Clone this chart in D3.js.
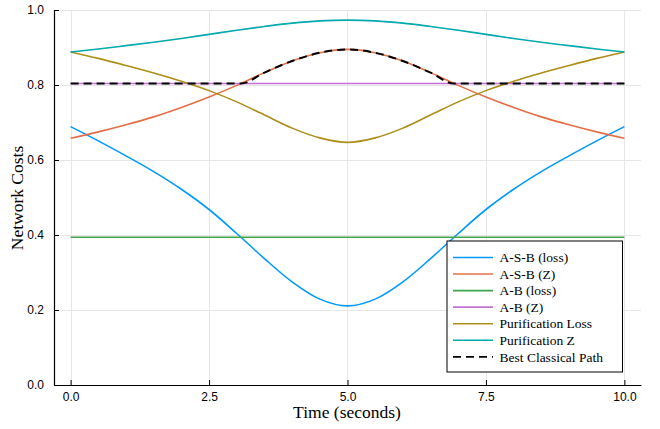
<!DOCTYPE html>
<html>
<head>
<meta charset="utf-8">
<script src="https://cdn.jsdelivr.net/npm/d3@7"></script>
<style>
  html, body { margin: 0; padding: 0; background: #fff; }
  svg { display: block; }
</style>
</head>
<body>
<svg id="chart" width="660" height="429"></svg>
<script>
// ---- data ----
const time = [0, 0.5, 1, 1.5, 2, 2.5, 3, 3.5, 4, 4.5, 5, 5.5, 6, 6.5, 7, 7.5, 8, 8.5, 9, 9.5, 10];
const asbLoss = [0.689, 0.651, 0.611, 0.569, 0.522, 0.468, 0.404, 0.337, 0.275, 0.229, 0.211,
                 0.229, 0.275, 0.337, 0.404, 0.468, 0.522, 0.569, 0.611, 0.651, 0.689];
const asbZ = [0.658, 0.675, 0.694, 0.715, 0.740, 0.768, 0.799, 0.833, 0.864, 0.886, 0.895,
              0.886, 0.864, 0.833, 0.799, 0.768, 0.740, 0.715, 0.694, 0.675, 0.658];
const abLoss = [0.394, 0.394, 0.394, 0.394, 0.394, 0.394, 0.394, 0.394, 0.394, 0.394, 0.394,
                0.394, 0.394, 0.394, 0.394, 0.394, 0.394, 0.394, 0.394, 0.394, 0.394];
const abZ = [0.804, 0.804, 0.804, 0.804, 0.804, 0.804, 0.804, 0.804, 0.804, 0.804, 0.804,
             0.804, 0.804, 0.804, 0.804, 0.804, 0.804, 0.804, 0.804, 0.804, 0.804];
const purLoss = [0.888, 0.871, 0.852, 0.832, 0.810, 0.785, 0.755, 0.720, 0.685, 0.659, 0.647,
                 0.659, 0.685, 0.720, 0.755, 0.785, 0.810, 0.832, 0.852, 0.871, 0.888];
const purZ = [0.888, 0.896, 0.905, 0.914, 0.924, 0.935, 0.946, 0.956, 0.965, 0.971, 0.973,
              0.971, 0.965, 0.956, 0.946, 0.935, 0.924, 0.914, 0.905, 0.896, 0.888];
const bestTime = [0, 1, 2, 3, 3.08, 3.5, 4, 4.5, 5, 5.5, 6, 6.5, 6.92, 7, 8, 9, 10];
const bestPath = [0.804, 0.804, 0.804, 0.804, 0.804, 0.833, 0.864, 0.886, 0.895,
                  0.886, 0.864, 0.833, 0.804, 0.804, 0.804, 0.804, 0.804];

const seriesNames = ["A-S-B (loss)", "A-S-B (Z)", "A-B (loss)", "A-B (Z)", "Purification Loss", "Purification Z", "Best Classical Path"];
const seriesColors = ["#009AFA", "#E36F47", "#3EA44E", "#C371D2", "#AC8E18", "#00A9AD", "#000000"];
const xTicks = [0, 2.5, 5, 7.5, 10];
const yTicks = [0, 0.2, 0.4, 0.6, 0.8, 1.0];
const xTitle = "Time (seconds)";
const yTitle = "Network Costs";

// ---- chart ----
const svg = d3.select("#chart");
const x = d3.scaleLinear().domain([-0.3, 10.3]).range([54, 641]);
const y = d3.scaleLinear().domain([0, 1]).range([385, 10]);

// grid
const grid = svg.append("g").attr("stroke", "#e6e6e6").attr("stroke-width", 1);
grid.selectAll("line.gx").data(xTicks).join("line")
  .attr("x1", d => Math.round(x(d)) + 0.5).attr("x2", d => Math.round(x(d)) + 0.5)
  .attr("y1", y(0)).attr("y2", y(1));
grid.selectAll("line.gy").data(yTicks).join("line")
  .attr("y1", d => Math.round(y(d)) + 0.5).attr("y2", d => Math.round(y(d)) + 0.5)
  .attr("x1", x.range()[0]).attr("x2", x.range()[1]);

// lines
const series = [
  { t: time, v: asbLoss },
  { t: time, v: asbZ },
  { t: time, v: abLoss },
  { t: time, v: abZ },
  { t: time, v: purLoss },
  { t: time, v: purZ },
  { t: bestTime, v: bestPath, dash: true }
];
const smooth = d3.line().x(d => x(d[0])).y(d => y(d[1])).curve(d3.curveCatmullRom.alpha(0.5));
const mono = d3.line().x(d => x(d[0])).y(d => y(d[1])).curve(d3.curveMonotoneX);
const plot = svg.append("g");
series.forEach((s, i) => {
  const pts = s.t.map((t, j) => [t, s.v[j]]);
  plot.append("path")
    .attr("d", s.dash ? mono(pts) : smooth(pts))
    .attr("fill", "none")
    .attr("stroke", seriesColors[i])
    .attr("stroke-width", s.dash ? 2 : 1.6)
    .attr("stroke-dasharray", s.dash ? "8,5" : null);
});

// axes
const fmt = d3.format(".1f");
const xAxis = svg.append("g").attr("transform", `translate(0,${y(0)})`)
  .call(d3.axisBottom(x).tickValues(xTicks).tickFormat(fmt).tickSize(-5).tickSizeOuter(0).tickPadding(7));
const yAxis = svg.append("g").attr("transform", `translate(${x.range()[0]},0)`)
  .call(d3.axisLeft(y).tickValues(yTicks).tickFormat(fmt).tickSize(-5).tickSizeOuter(0).tickPadding(10));
[xAxis, yAxis].forEach(a => {
  a.selectAll("text").attr("font-family", "'Liberation Sans', Arial, sans-serif").attr("font-size", 12).attr("fill", "#000");
  a.select(".domain").attr("stroke", "#000").attr("stroke-width", 1.2);
  a.selectAll(".tick line").attr("stroke", "#000");
});

// titles
svg.append("text").text(xTitle)
  .attr("x", 347).attr("y", 418).attr("text-anchor", "middle")
  .attr("font-family", "'Liberation Serif', 'Times New Roman', serif").attr("font-size", 17.5);
svg.append("text").text(yTitle)
  .attr("transform", "translate(23,198) rotate(-90)").attr("text-anchor", "middle")
  .attr("font-family", "'Liberation Serif', 'Times New Roman', serif").attr("font-size", 17.5);

// legend
const lg = svg.append("g");
lg.append("rect").attr("x", 447).attr("y", 241).attr("width", 175.5).attr("height", 131)
  .attr("fill", "#fff").attr("stroke", "#000").attr("stroke-width", 1);
seriesNames.forEach((n, i) => {
  const yy = 257.5 + i * 16.55;
  lg.append("line").attr("x1", 453).attr("x2", 493).attr("y1", yy).attr("y2", yy)
    .attr("stroke", seriesColors[i]).attr("stroke-width", i === 6 ? 1.8 : 1.6)
    .attr("stroke-dasharray", i === 6 ? "8,5" : null);
  lg.append("text").text(n).attr("x", 499.5).attr("y", yy).attr("dy", "0.35em")
    .attr("font-family", "'Liberation Serif', 'Times New Roman', serif").attr("font-size", 13.5);
});
</script>
</body>
</html>
